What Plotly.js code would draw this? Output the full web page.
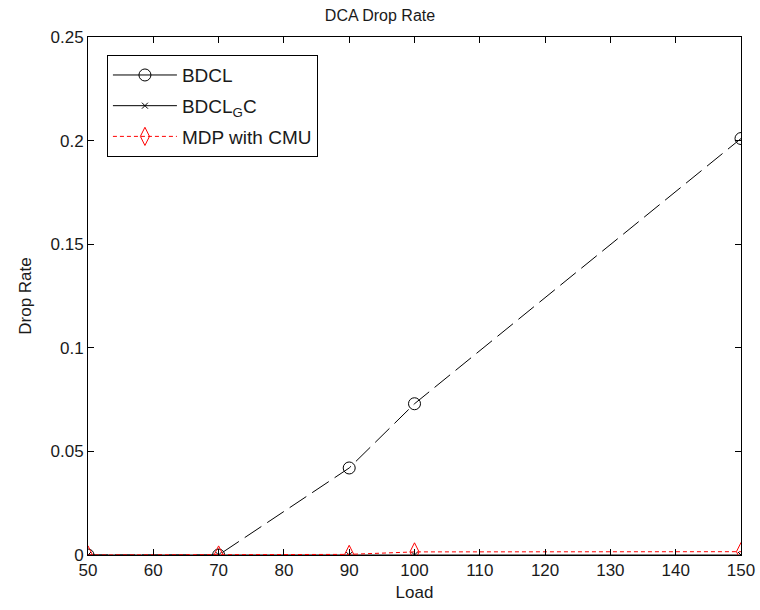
<!DOCTYPE html>
<html>
<head>
<meta charset="utf-8">
<script src="https://cdn.plot.ly/plotly-3.0.1.min.js"></script>
<style>html,body{margin:0;padding:0;background:#fff;}#chart{width:760px;height:610px;}</style>
</head>
<body>
<div id="chart"></div>
<script>
const loads = [50, 70, 90, 100, 150];
const bdcl = [0, 0, 0.042, 0.073, 0.201];
const bdclGC = [0, 0, 0, 0, 0];
const mdpCMU = [0, 0, 0.0003, 0.0015, 0.0016];
const xTicks = [50, 60, 70, 80, 90, 100, 110, 120, 130, 140, 150];
const yTicks = [0, 0.05, 0.1, 0.15, 0.2, 0.25];
const yTickText = ['0', '0.05', '0.1', '0.15', '0.2', '0.25'];
const names = ['BDCL', 'BDCL<sub>G</sub>C', 'MDP with CMU'];

const FONT = 'Liberation Sans, Arial, sans-serif';
const TXT = '#1a1a1a';

const traces = [
  {x: loads, y: bdcl, mode: 'lines+markers', showlegend: false,
   line: {color: '#000', width: 1, dash: '20px,7px'},
   marker: {symbol: 'circle-open', size: 12, color: '#000', line: {width: 1}}},
  {x: loads, y: bdclGC, mode: 'lines+markers', showlegend: false,
   line: {color: '#000', width: 1},
   marker: {symbol: 'x-thin-open', size: 6, color: '#000', line: {width: 1, color: '#000'}}},
  {x: loads, y: mdpCMU, mode: 'lines+markers', showlegend: false,
   line: {color: '#ff0000', width: 1, dash: '4px,3px'},
   marker: {symbol: 'diamond-tall-open', size: 13, color: '#ff0000', line: {width: 1}}},
  {x: [null], y: [null], name: names[0], mode: 'lines+markers', legendgroup: 'a',
   line: {color: '#000', width: 1},
   marker: {symbol: 'circle-open', size: 12, color: '#000', line: {width: 1}}},
  {x: [null], y: [null], name: names[1], mode: 'lines+markers', legendgroup: 'b',
   line: {color: '#000', width: 1},
   marker: {symbol: 'x-thin-open', size: 6, color: '#000', line: {width: 1, color: '#000'}}},
  {x: [null], y: [null], name: names[2], mode: 'lines+markers', legendgroup: 'c',
   line: {color: '#ff0000', width: 1, dash: '4px,3px'},
   marker: {symbol: 'diamond-tall-open', size: 13, color: '#ff0000', line: {width: 1}}}
];

const axisCommon = {
  showgrid: false, zeroline: false, showline: true, mirror: 'ticks',
  linecolor: '#000', linewidth: 1, ticks: 'inside', ticklen: 6, tickcolor: '#000',
  tickfont: {family: FONT, size: 17, color: TXT}
};

const layout = {
  width: 760, height: 610,
  margin: {l: 88, r: 19, t: 37, b: 55},
  paper_bgcolor: '#fff', plot_bgcolor: '#fff',
  font: {family: FONT, size: 17, color: TXT},
  title: {text: 'DCA Drop Rate', x: 0.5, xanchor: 'center', y: 0.975, yanchor: 'middle',
          font: {family: FONT, size: 16, color: TXT}},
  xaxis: Object.assign({}, axisCommon, {
    range: [50, 150], tickvals: xTicks, ticktext: xTicks.map(String), automargin: false,
    title: {text: 'Load', standoff: 6, font: {family: FONT, size: 17, color: TXT}}
  }),
  yaxis: Object.assign({}, axisCommon, {
    range: [0, 0.25], tickvals: yTicks, ticktext: yTickText, automargin: false,
    title: {text: 'Drop Rate', standoff: 14, font: {family: FONT, size: 17, color: TXT}}
  }),
  legend: {
    x: 0.029, y: 0.965, xanchor: 'left', yanchor: 'top',
    bgcolor: '#fff', bordercolor: '#000', borderwidth: 1,
    font: {family: FONT, size: 19, color: TXT}, tracegroupgap: 3, itemwidth: 64
  },
  showlegend: true
};

Plotly.newPlot('chart', traces, layout, {displayModeBar: false, staticPlot: true});
</script>
</body>
</html>
